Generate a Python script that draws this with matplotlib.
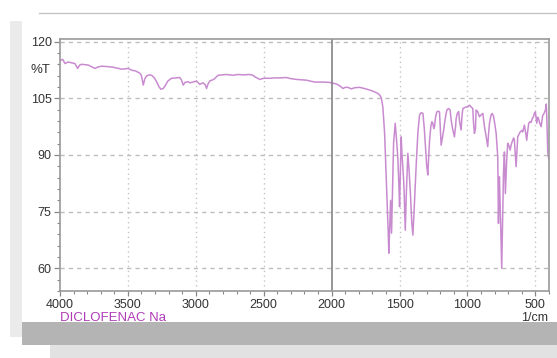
#! /usr/bin/env python3
"""FTIR spectrum of diclofenac sodium (%T vs wavenumber)."""
import matplotlib

matplotlib.use("Agg")
import matplotlib.pyplot as plt
from matplotlib.patches import Rectangle
from matplotlib.ticker import MultipleLocator

plt.rcParams["font.family"] = ["Liberation Sans", "DejaVu Sans"]

# wavenumber (1/cm) and transmittance (%T)
wavenumber = [
    4000, 3980, 3963, 3940, 3914, 3890, 3870, 3855, 3840, 3792, 3765, 3743,
    3720, 3693, 3660, 3620, 3580, 3546, 3498, 3470, 3449, 3425, 3412, 3400,
    3387, 3375, 3363, 3345, 3326, 3305, 3289, 3270, 3257, 3240, 3228, 3205,
    3179, 3150, 3118, 3105, 3093, 3080, 3057, 3044, 3020, 2995, 2971, 2946,
    2930, 2921, 2910, 2897, 2868, 2850, 2836, 2775, 2726, 2690, 2652, 2603,
    2580, 2566, 2529, 2500, 2456, 2420, 2382, 2333, 2300, 2260, 2186, 2125,
    2060, 2015, 1990, 1966, 1940, 1917, 1900, 1880, 1855, 1830, 1794, 1760,
    1721, 1690, 1660, 1645, 1634, 1623, 1610, 1598, 1590, 1584, 1579, 1572,
    1566, 1559, 1552, 1544, 1532, 1520, 1512, 1505, 1500, 1494, 1488, 1482,
    1476, 1468, 1458, 1450, 1439, 1430, 1419, 1410, 1402, 1392, 1377, 1365,
    1353, 1340, 1328, 1318, 1309, 1300, 1292, 1285, 1279, 1270, 1262, 1255,
    1248, 1243, 1235, 1226, 1214, 1206, 1200, 1194, 1185, 1175, 1166, 1152,
    1140, 1128, 1120, 1110, 1096, 1088, 1083, 1075, 1065, 1059, 1047, 1040,
    1034, 1010, 998, 985, 973, 961, 956, 949, 941, 937, 925, 912,
    900, 887, 875, 863, 851, 845, 838, 826, 818, 809, 800, 789,
    780, 777, 772, 768, 765, 756, 748, 742, 735, 728, 721, 712,
    704, 695, 686, 676, 667, 660, 655, 648, 642, 636, 630, 620,
    612, 600, 593, 587, 581, 572, 564, 556, 549, 540, 532, 523,
    515, 507, 500, 495, 490, 483, 476, 467, 458, 452, 446, 436,
    426, 420, 417, 413, 409, 402,
]
transmittance = [
    115.0, 115.3, 114.2, 114.6, 114.4, 114.2, 112.9, 113.8, 114.0, 113.8, 113.3, 112.9,
    113.3, 113.5, 113.4, 113.3, 113.0, 112.7, 112.9, 112.4, 112.3, 111.9, 111.6, 111.0,
    108.5, 110.2, 110.9, 111.2, 111.1, 110.4, 109.4, 108.0, 107.4, 107.6, 108.2, 109.6,
    110.3, 110.4, 110.5, 109.8, 108.5, 109.2, 109.4, 109.1, 109.3, 109.6, 108.7, 109.1,
    108.5, 107.6, 108.8, 109.6, 110.0, 110.6, 111.1, 111.3, 111.1, 111.3, 111.2, 111.3,
    111.1, 110.7, 110.0, 110.3, 110.3, 110.4, 110.4, 110.5, 110.2, 110.0, 109.8, 109.3,
    109.3, 109.2, 109.0, 108.8, 108.3, 107.6, 107.9, 107.9, 107.5, 107.8, 107.9, 107.6,
    107.2, 106.8, 106.3, 105.8, 105.0, 102.7, 95.7, 84.2, 76.0, 70.0, 64.0, 72.0,
    78.0, 69.3, 80.0, 93.1, 98.4, 93.0, 88.6, 82.0, 76.3, 86.0, 94.8, 90.0,
    86.9, 82.0, 70.1, 80.0, 90.4, 86.0, 79.0, 72.0, 68.8, 76.0, 87.8, 96.0,
    100.6, 101.2, 101.0, 97.0, 92.2, 87.0, 84.7, 90.0, 93.9, 97.5, 98.8, 98.4,
    97.0, 97.5, 100.0, 101.4, 101.6, 101.4, 97.0, 92.6, 94.5, 96.6, 99.2, 101.9,
    102.3, 101.9, 99.2, 97.0, 94.8, 97.5, 99.7, 101.0, 101.5, 99.0, 96.6, 100.5,
    102.3, 102.7, 102.7, 103.2, 102.7, 102.3, 98.8, 95.7, 97.0, 101.9, 101.5, 100.1,
    100.6, 101.0, 97.5, 95.0, 92.2, 95.5, 98.4, 100.6, 101.0, 100.3, 98.5, 95.7,
    91.0, 89.5, 71.9, 80.0, 84.2, 72.0, 60.0, 72.0, 85.1, 90.8, 79.8, 88.0,
    93.1, 92.5, 91.3, 93.0, 93.9, 94.5, 94.0, 90.0, 86.9, 91.0, 94.8, 95.5,
    96.1, 96.5, 96.1, 97.0, 97.9, 96.0, 93.9, 96.5, 98.4, 98.8, 98.6, 99.6,
    100.1, 101.0, 101.4, 100.0, 98.4, 100.0, 99.5, 98.3, 97.5, 99.0, 100.5, 101.0,
    101.9, 103.5, 101.0, 96.0, 90.8, 89.0,
]
x_major = [4000, 3500, 3000, 2500, 2000, 1500, 1000, 500]
y_major = [60, 75, 90, 105, 120]
sample_name = "DICLOFENAC Na"

fig = plt.figure(figsize=(5.57, 3.58), dpi=100, facecolor="white")
# card edges: dotted-grey margin on the left, drop shadow at the bottom
fig.add_artist(Rectangle((0.018, 0.06), 0.022, 0.88, transform=fig.transFigure,
                         facecolor="#ebebeb", edgecolor="none", zorder=-2))
fig.add_artist(Rectangle((0.04, 0.036), 0.96, 0.064, transform=fig.transFigure,
                         facecolor="#b4b4b4", edgecolor="none", zorder=-2))
fig.add_artist(Rectangle((0.09, 0.0), 0.91, 0.036, transform=fig.transFigure,
                         facecolor="#e2e2e2", edgecolor="none", zorder=-2))
fig.add_artist(plt.Line2D([0.07, 1.0], [0.965, 0.965], transform=fig.transFigure,
                          color="#c4c4c4", lw=1))

ax = fig.add_axes([0.1077, 0.1872, 0.8779, 0.7039])
ax.plot(wavenumber, transmittance, color="#c98bd0", lw=1.1)
ax.axvline(2000, color="#7a7a7a", lw=1.1)

ax.set_xlim(4000, 400)
ax.set_ylim(54, 120.7)
ax.set_xticks(x_major)
ax.set_yticks(y_major)
ax.xaxis.set_minor_locator(MultipleLocator(100))
ax.yaxis.set_minor_locator(MultipleLocator(3))
ax.tick_params(which="major", direction="out", length=4.5, width=0.9,
               color="#888888", labelsize=9, labelcolor="#333333", pad=1.5)
ax.tick_params(which="minor", direction="out", length=2.2, width=0.8, color="#888888")
ax.tick_params(axis="x", which="major", length=3.5, pad=2)

for x in x_major[1:]:
    if x != 2000:
        ax.axvline(x, color="#c4c4c4", lw=1.0, ls=(0, (1, 2.5)), zorder=0)
for y in y_major:
    ax.axhline(y, color="#bdbdbd", lw=1.0, ls=(0, (3, 3)), zorder=0)

for spine in ax.spines.values():
    spine.set_color("#9a9a9a")
    spine.set_linewidth(1.2)

fig.text(50 / 557, 1 - 70 / 358, "%T", ha="right", va="center",
         fontsize=9.5, color="#333333")
fig.text(548 / 557, 1 - 318 / 358, "1/cm", ha="right", va="center",
         fontsize=9, color="#333333")
fig.text(60 / 557, 1 - 318 / 358, sample_name, ha="left", va="center",
         fontsize=9.5, color="#b03cb8")

fig.savefig("out.png", dpi=100, facecolor=fig.get_facecolor())
